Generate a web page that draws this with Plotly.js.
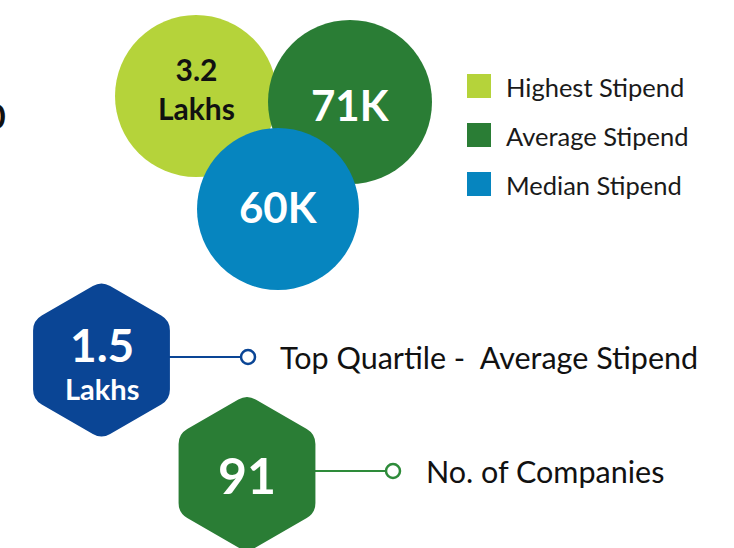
<!DOCTYPE html>
<html>
<head>
<meta charset="utf-8">
<script src="https://cdn.plot.ly/plotly-3.0.1.min.js"></script>
<style>html,body{margin:0;padding:0;background:#fff;}#chart{width:734px;height:548px;}</style>
</head>
<body>
<div id="chart"></div>
<script>
// ---- data ----
const stipendLabels = ["Highest Stipend", "Average Stipend", "Median Stipend"];
const stipendValues = ["3.2<br>Lakhs", "71K", "60K"];
const statLabels = ["Top Quartile -  Average Stipend", "No. of Companies"];
const statValues = ["1.5", "91"];
const statUnits = ["Lakhs", ""];
const edgeText = ["0"];

// ---- style ----
const FONT = "Lato, 'Open Sans', sans-serif";
const circleColors = ["#b5d33a", "#2a7d35", "#0685bf"];
const circleTextColors = ["#111111", "#ffffff", "#ffffff"];
const circleGeom = [
  {cx: 196, cy: 96, r: 81, ty: 88, fs: 30},
  {cx: 350, cy: 102, r: 82, ty: 105, fs: 42},
  {cx: 278, cy: 209, r: 81, ty: 207, fs: 42}
];
const hexColors = ["#0a4595", "#2a7d35"];
const hexGeom = [
  {cx: 101.5, cy: 360, R: 79, ty: 344, fs: 46, uy: 388, ufs: 29, ly: 357, lx1: 168, lx2: 248, tx: 278},
  {cx: 247, cy: 473.5, R: 79, ty: 475, fs: 50, uy: 0, ufs: 0, ly: 471, lx1: 313, lx2: 393, tx: 424}
];
const dotColors = ["#0a4595", "#2e8b3a"];

function roundedHexPath(cx, cy, R, rad) {
  const v = [];
  for (let i = 0; i < 6; i++) {
    const a = (-90 + 60 * i) * Math.PI / 180;
    v.push([cx + R * Math.cos(a), cy + R * Math.sin(a)]);
  }
  const pts = [];
  for (let i = 0; i < 6; i++) {
    const p = v[i], prev = v[(i + 5) % 6], next = v[(i + 1) % 6];
    const f = rad / R;
    const a = [p[0] + (prev[0] - p[0]) * f, p[1] + (prev[1] - p[1]) * f];
    const b = [p[0] + (next[0] - p[0]) * f, p[1] + (next[1] - p[1]) * f];
    pts.push({a, p, b});
  }
  let d = `M ${pts[0].b[0]},${pts[0].b[1]}`;
  for (let i = 1; i <= 6; i++) {
    const c = pts[i % 6];
    d += ` L ${c.a[0]},${c.a[1]} Q ${c.p[0]},${c.p[1]} ${c.b[0]},${c.b[1]}`;
  }
  return d + " Z";
}

const shapes = [];
const annotations = [];

// circles
stipendLabels.forEach((lab, i) => {
  const g = circleGeom[i];
  shapes.push({type: "circle", xref: "x", yref: "y", x0: g.cx - g.r, x1: g.cx + g.r,
    y0: g.cy - g.r, y1: g.cy + g.r, fillcolor: circleColors[i], line: {width: 0}, layer: "above"});
  annotations.push({x: g.cx, y: g.ty, xref: "x", yref: "y", text: "<b>" + stipendValues[i] + "</b>",
    showarrow: false, xanchor: "center", yanchor: "middle",
    font: {family: FONT, size: g.fs, color: circleTextColors[i]}});
  // legend
  const ly = 86 + 49 * i;
  shapes.push({type: "rect", xref: "x", yref: "y", x0: 467, x1: 491, y0: ly - 12, y1: ly + 12,
    fillcolor: circleColors[i], line: {width: 0}});
  annotations.push({x: 504, y: ly + 1, xref: "x", yref: "y", text: lab, showarrow: false,
    xanchor: "left", yanchor: "middle", font: {family: FONT, size: 25.5, color: "#1a1a1a"}});
});

// hexagons
statLabels.forEach((lab, i) => {
  const g = hexGeom[i];
  shapes.push({type: "line", xref: "x", yref: "y", x0: g.lx1 - 5, x1: g.lx2 - 7, y0: g.ly, y1: g.ly,
    line: {color: dotColors[i], width: 2}});
  shapes.push({type: "circle", xref: "x", yref: "y", x0: g.lx2 - 7, x1: g.lx2 + 7, y0: g.ly - 7, y1: g.ly + 7,
    fillcolor: "#ffffff", line: {color: dotColors[i], width: 2.5}});
  shapes.push({type: "path", xref: "x", yref: "y", path: roundedHexPath(g.cx, g.cy, g.R, 10),
    fillcolor: hexColors[i], line: {width: 0}});
  annotations.push({x: g.cx, y: g.ty, xref: "x", yref: "y", text: "<b>" + statValues[i] + "</b>",
    showarrow: false, xanchor: "center", yanchor: "middle",
    font: {family: FONT, size: g.fs, color: "#ffffff"}});
  if (statUnits[i]) {
    annotations.push({x: g.cx, y: g.uy, xref: "x", yref: "y", text: "<b>" + statUnits[i] + "</b>",
      showarrow: false, xanchor: "center", yanchor: "middle",
      font: {family: FONT, size: g.ufs, color: "#ffffff"}});
  }
  annotations.push({x: g.tx, y: g.ly, xref: "x", yref: "y", text: lab, showarrow: false,
    xanchor: "left", yanchor: "middle", font: {family: FONT, size: 30.5, color: "#111111"}});
});

// cut-off text at left edge (as in the reference)
annotations.push({x: 8, y: 115, xref: "x", yref: "y", text: "<b>" + edgeText[0] + "</b>", showarrow: false,
  xanchor: "right", yanchor: "middle", font: {family: FONT, size: 34, color: "#111111"}});

const layout = {
  width: 734, height: 548,
  margin: {l: 0, r: 0, t: 0, b: 0},
  paper_bgcolor: "#ffffff", plot_bgcolor: "#ffffff",
  xaxis: {range: [0, 734], visible: false, fixedrange: true},
  yaxis: {range: [548, 0], visible: false, fixedrange: true},
  showlegend: false,
  shapes: shapes,
  annotations: annotations
};

Plotly.newPlot("chart", [{x: [], y: [], type: "scatter", mode: "markers", hoverinfo: "skip"}], layout,
  {staticPlot: true, displayModeBar: false});
</script>
</body>
</html>
